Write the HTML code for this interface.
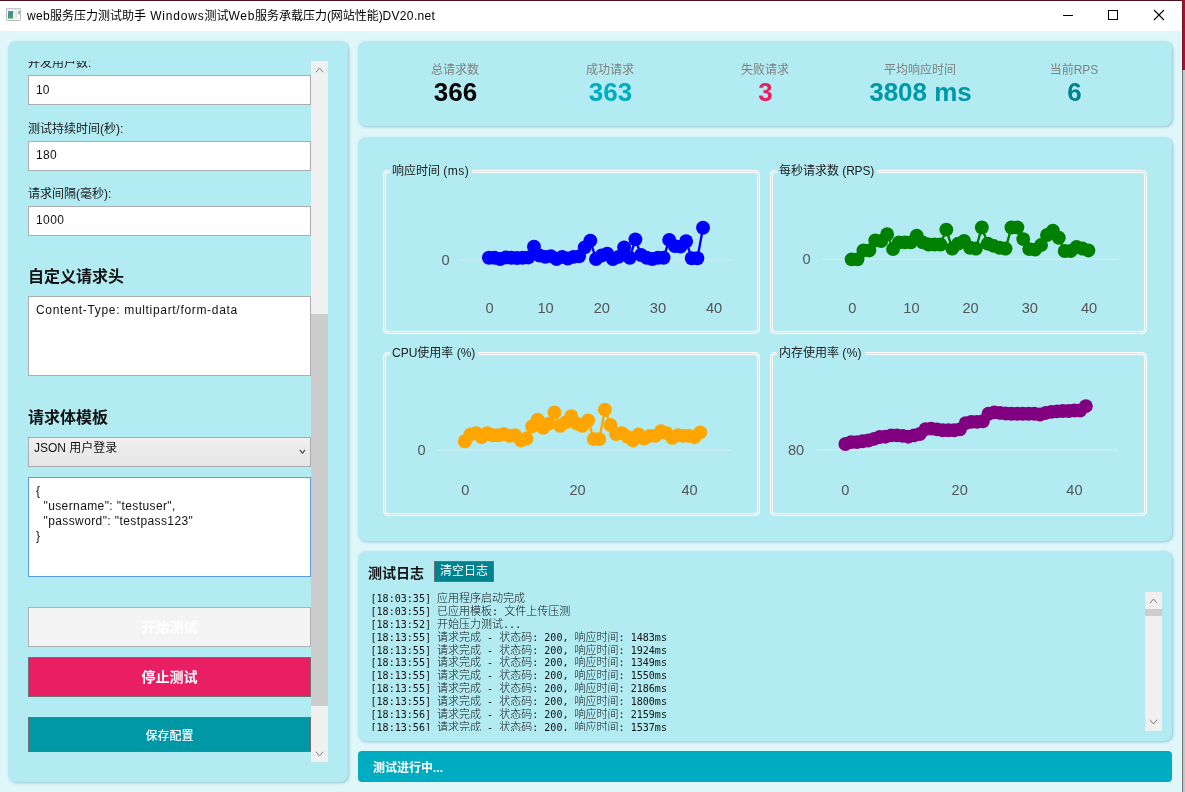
<!DOCTYPE html>
<html lang="zh-CN">
<head>
<meta charset="utf-8">
<title>web服务压力测试助手</title>
<style>
*{box-sizing:border-box;margin:0;padding:0}
html,body{width:1185px;height:792px;overflow:hidden;background:#e0f7fa}
body{position:relative;font-family:"Liberation Sans","Noto Sans CJK SC",sans-serif;font-size:12px;color:#000}
.abs{position:absolute}
#topline{left:0;top:0;width:1185px;height:1px;background:#4b0f1d}
#titlebar{left:0;top:1px;width:1182px;height:30px;background:#fff}
#rb1{left:1182px;top:0;width:3px;height:70px;background:#a2142f;border-left:1px solid #7d1226}
#rb2{left:1182px;top:70px;width:3px;height:722px;background:#c6c6c6;border-left:1px solid #6e6e6e}
#appicon{left:6px;top:8px;width:15px;height:13px;border:1px solid #a9b1bd;background:#f2f3f5}
#appicon i{position:absolute;left:1px;top:2px;width:6px;height:8px;background:linear-gradient(#5b86b8,#4d9a5a)}
#appicon b{position:absolute;left:8px;top:1px;width:2px;height:10px;background:#d9d9d9}
#appicon u{position:absolute;left:11px;top:2px;width:2px;height:4px;background:#7fa6d8}
#title{left:27px;top:9px;font-size:12px;line-height:15px;white-space:nowrap;color:#000}
.wb{top:1px;height:30px;width:46px}
.panel{background:#b2ebf2;border-radius:8px;box-shadow:1px 1px 3px rgba(95,160,190,.6)}
.lbl{left:28px;font-size:12px;line-height:14px;white-space:nowrap;color:#1a1a1a}
.inp{left:28px;width:283px;background:#fff;border:1px solid #abadb3;font-size:12px;padding-left:7px;color:#111}
.h{left:28px;font-size:16px;font-weight:bold;line-height:20px;white-space:nowrap;color:#111}
.btn{left:28px;width:283px;text-align:center;font-weight:bold;font-size:12px;color:#fff;border:1px solid #707070}
.st-l{font-size:12px;line-height:14px;color:#808080;text-align:center;width:154px;top:63px;white-space:nowrap}
.st-v{font-size:26px;line-height:28px;font-weight:bold;text-align:center;width:154px;top:78px;white-space:nowrap;padding-left:1px}
.gb{border:3px solid #fff;border-radius:5px}
.gb:before{content:"";position:absolute;left:-2px;top:-2px;right:-2px;bottom:-2px;border:1px solid #d5dfe5;border-radius:4px}
.gbt{background:#b2ebf2;font-size:12px;line-height:17px;white-space:nowrap;color:#1c1c1c;padding:0 2.8px 0 2px}
svg.charts{position:absolute;left:0;top:0}
.ax{font-family:"Liberation Sans",sans-serif;font-size:14.6px;fill:#555}
.ll{white-space:pre;height:12.88px;line-height:12.88px}
.cj{font-family:"Noto Sans CJK SC",sans-serif;font-size:11px;font-weight:300}
#log{left:370.5px;top:591px;width:774px;height:139.5px;overflow:hidden;font-family:"DejaVu Sans Mono","Liberation Mono","Noto Sans CJK SC",monospace;font-size:10.05px;color:#111}
.sb{background:#f0f0f0}
.thumb{background:#cdcdcd}
</style>
</head>
<body>
<div class="abs" id="topline"></div>
<div class="abs" id="titlebar"></div>
<div class="abs" id="rb1"></div>
<div class="abs" id="rb2"></div>
<div class="abs" style="left:1181px;top:31px;width:1px;height:761px;background:#e9fdff"></div>
<svg class="abs" style="left:5px;top:7px" width="18" height="16" viewBox="0 0 18 16">
<defs><linearGradient id="ig1" x1="0" y1="0" x2="0.6" y2="1"><stop offset="0" stop-color="#6f8fc6"/><stop offset=".45" stop-color="#3f8f8f"/><stop offset="1" stop-color="#46a758"/></linearGradient>
<linearGradient id="ig2" x1="0" y1="0" x2="0" y2="1"><stop offset="0" stop-color="#7d9fd3"/><stop offset=".6" stop-color="#9ad9a0"/><stop offset="1" stop-color="#ffffff"/></linearGradient></defs>
<rect x="1.5" y="1.5" width="14" height="12" rx=".6" fill="#fff" stroke="#b4bac2" stroke-width="1"/>
<rect x="1.5" y="1.3" width="14" height="1.3" fill="#ccd0d6"/>
<rect x="3" y="4" width="5.2" height="7.6" fill="url(#ig1)"/>
<rect x="10" y="4" width="2.2" height="7.6" fill="#e3e3e3"/>
<rect x="13" y="4" width="2" height="4.6" fill="url(#ig2)"/>
</svg>
<div class="abs" id="title"><span style="letter-spacing:.33px">web</span>服务压力测试助手<span style="letter-spacing:.8px"> Windows</span>测试<span style="letter-spacing:.7px">Web</span>服务承载压力<span style="letter-spacing:-.3px">(</span>网站性能<span style="letter-spacing:-.3px">)</span><span style="letter-spacing:.35px">DV20.net</span></div>
<svg class="abs wb" style="left:1044px" viewBox="0 0 46 30"><path d="M19 14.5h10" stroke="#000" stroke-width="1" fill="none"/></svg>
<svg class="abs wb" style="left:1090px" viewBox="0 0 46 30"><rect x="18.5" y="9.5" width="9" height="9" stroke="#000" stroke-width="1" fill="none"/></svg>
<svg class="abs wb" style="left:1136px" viewBox="0 0 46 30"><path d="M18 9l10 10M28 9l-10 10" stroke="#000" stroke-width="1.1" fill="none"/></svg>

<!-- left panel -->
<div class="abs panel" style="left:8px;top:41px;width:340px;height:741px"></div>
<div class="abs" style="left:28px;top:60.6px;width:283px;height:8.4px;overflow:hidden"><div class="lbl" style="position:absolute;left:0;top:-4.6px">并发用户数:</div></div>
<div class="abs inp" style="top:75px;height:30px;line-height:29px">10</div>
<div class="abs lbl" style="top:122px">测试持续时间(秒):</div>
<div class="abs inp" style="top:141px;height:30px;line-height:27px;letter-spacing:.35px">180</div>
<div class="abs lbl" style="top:187px">请求间隔(毫秒):</div>
<div class="abs inp" style="top:206px;height:30px;line-height:26px;letter-spacing:.4px">1000</div>
<div class="abs h" style="top:267px">自定义请求头</div>
<div class="abs inp" style="top:296px;height:80px;line-height:16px;padding-top:5px;letter-spacing:.68px">Content-Type: multipart/form-data</div>
<div class="abs h" style="top:408px">请求体模板</div>
<div class="abs" style="left:28px;top:437px;width:283px;height:30px;border:1px solid #acacac;background:linear-gradient(#f0f0f0,#e5e5e5);font-size:12px;line-height:20px;padding-left:5px;color:#111">JSON 用户登录
<svg class="abs" style="left:269.5px;top:10.5px" width="7" height="6" viewBox="0 0 7 6"><path d="M.8 .9L3.4 4.1L6 .9" stroke="#555" stroke-width="1.35" fill="none"/></svg></div>
<div class="abs inp" style="top:477px;height:100px;border-color:#569de5;line-height:15px;padding-top:6px;white-space:pre;letter-spacing:.4px">{
  "username": "testuser",
  "password": "testpass123"
}</div>
<div class="abs btn" style="top:607px;height:40px;line-height:38px;font-size:14px;background:#f4f4f4;border-color:#adb2b5">开始测试</div>
<div class="abs btn" style="top:657px;height:40px;line-height:38px;font-size:14px;background:#e91e63">停止测试</div>
<div class="abs btn" style="top:717px;height:35px;line-height:36px;font-weight:500;background:#0097a7">保存配置</div>
<div class="abs sb" style="left:311px;top:61px;width:17px;height:701px"></div>
<div class="abs thumb" style="left:311px;top:314px;width:17px;height:392px"></div>
<svg class="abs" style="left:315px;top:66px" width="9" height="8" viewBox="0 0 9 8"><path d="M1 6.2L4.5 2L8 6.2" stroke="#7d7d7d" stroke-width="1" fill="none"/></svg>
<svg class="abs" style="left:315px;top:750px" width="9" height="8" viewBox="0 0 9 8"><path d="M1 1.8L4.5 6L8 1.8" stroke="#7d7d7d" stroke-width="1" fill="none"/></svg>

<!-- stats -->
<div class="abs panel" style="left:358px;top:41px;width:814px;height:85px"></div>
<div class="abs st-l" style="left:378px">总请求数</div>
<div class="abs st-v" style="left:378px;color:#000">366</div>
<div class="abs st-l" style="left:533px">成功请求</div>
<div class="abs st-v" style="left:533px;color:#00acc1">363</div>
<div class="abs st-l" style="left:688px">失败请求</div>
<div class="abs st-v" style="left:688px;color:#e91e63">3</div>
<div class="abs st-l" style="left:843px">平均响应时间</div>
<div class="abs st-v" style="left:843px;color:#0097a7">3808 ms</div>
<div class="abs st-l" style="left:997px">当前RPS</div>
<div class="abs st-v" style="left:997px;color:#00838f">6</div>

<!-- charts -->
<div class="abs panel" style="left:358px;top:137px;width:814px;height:404px"></div>
<div class="abs gb" style="left:383px;top:170px;width:377px;height:164px"></div>
<div class="abs gb" style="left:770px;top:170px;width:377px;height:164px"></div>
<div class="abs gb" style="left:383px;top:352px;width:377px;height:164px"></div>
<div class="abs gb" style="left:770px;top:352px;width:377px;height:164px"></div>
<div class="abs gbt" style="left:390px;top:163px">响应时间 <span style="letter-spacing:.5px">(ms)</span></div>
<div class="abs gbt" style="left:777px;top:163px">每秒请求数 <span style="letter-spacing:-.2px">(RPS)</span></div>
<div class="abs gbt" style="left:390px;top:345px">CPU使用率 (%)</div>
<div class="abs gbt" style="left:777px;top:345px">内存使用率 <span style="letter-spacing:.3px">(%)</span></div>
<svg class="charts" width="1185" height="792" viewBox="0 0 1185 792">
<g stroke="#d3ecf0" stroke-width="1.2">
<line x1="461" y1="260" x2="731" y2="260"/>
<line x1="822" y1="259.3" x2="1118" y2="259.3"/>
<line x1="437" y1="450.2" x2="731" y2="450.2"/>
<line x1="817" y1="449.8" x2="1118" y2="449.8"/>
</g>
<polyline points="488.9,257.72 494.53,257.72 500.17,259.07 505.8,257.45 511.44,257.72 517.07,257.99 522.71,257.72 528.35,257.45 533.98,246.65 539.62,255.56 545.25,256.91 550.88,256.1 556.52,259.07 562.15,256.91 567.79,258.53 573.42,256.91 579.06,256.37 584.69,247.46 590.33,240.71 595.96,259.07 601.6,255.56 607.24,253.67 612.87,259.07 618.5,256.91 624.14,247.46 629.77,257.72 635.41,239.36 641.04,255.02 646.68,257.72 652.31,259.07 657.95,257.72 663.59,257.72 669.22,239.9 674.86,246.11 680.49,246.65 686.12,241.25 691.76,258.26 697.39,258.26 703.03,227.75" fill="none" stroke="#0000ff" stroke-width="2.4" stroke-linejoin="round"/><g fill="#0000ff"><circle cx="488.9" cy="257.72" r="6.95"/><circle cx="494.53" cy="257.72" r="6.95"/><circle cx="500.17" cy="259.07" r="6.95"/><circle cx="505.8" cy="257.45" r="6.95"/><circle cx="511.44" cy="257.72" r="6.95"/><circle cx="517.07" cy="257.99" r="6.95"/><circle cx="522.71" cy="257.72" r="6.95"/><circle cx="528.35" cy="257.45" r="6.95"/><circle cx="533.98" cy="246.65" r="6.95"/><circle cx="539.62" cy="255.56" r="6.95"/><circle cx="545.25" cy="256.91" r="6.95"/><circle cx="550.88" cy="256.1" r="6.95"/><circle cx="556.52" cy="259.07" r="6.95"/><circle cx="562.15" cy="256.91" r="6.95"/><circle cx="567.79" cy="258.53" r="6.95"/><circle cx="573.42" cy="256.91" r="6.95"/><circle cx="579.06" cy="256.37" r="6.95"/><circle cx="584.69" cy="247.46" r="6.95"/><circle cx="590.33" cy="240.71" r="6.95"/><circle cx="595.96" cy="259.07" r="6.95"/><circle cx="601.6" cy="255.56" r="6.95"/><circle cx="607.24" cy="253.67" r="6.95"/><circle cx="612.87" cy="259.07" r="6.95"/><circle cx="618.5" cy="256.91" r="6.95"/><circle cx="624.14" cy="247.46" r="6.95"/><circle cx="629.77" cy="257.72" r="6.95"/><circle cx="635.41" cy="239.36" r="6.95"/><circle cx="641.04" cy="255.02" r="6.95"/><circle cx="646.68" cy="257.72" r="6.95"/><circle cx="652.31" cy="259.07" r="6.95"/><circle cx="657.95" cy="257.72" r="6.95"/><circle cx="663.59" cy="257.72" r="6.95"/><circle cx="669.22" cy="239.9" r="6.95"/><circle cx="674.86" cy="246.11" r="6.95"/><circle cx="680.49" cy="246.65" r="6.95"/><circle cx="686.12" cy="241.25" r="6.95"/><circle cx="691.76" cy="258.26" r="6.95"/><circle cx="697.39" cy="258.26" r="6.95"/><circle cx="703.03" cy="227.75" r="6.95"/></g>
<polyline points="851.6,259.37 857.52,259.37 863.44,250.46 869.36,250.46 875.28,240.47 881.2,241.01 887.12,234.26 893.04,249.11 898.96,242.36 904.88,242.36 910.8,242.36 916.72,235.61 922.64,242.36 928.56,244.52 934.48,244.52 940.4,244.52 946.32,229.67 952.24,248.57 958.16,243.71 964.08,241.01 970,247.76 975.92,248.57 981.84,227.51 987.76,243.71 993.68,245.87 999.6,247.76 1005.52,248.57 1011.44,227.51 1017.36,227.51 1023.28,239.12 1029.2,249.11 1035.12,249.65 1041.04,245.06 1046.96,235.07 1052.88,230.75 1058.8,237.77 1064.72,251 1070.64,251 1076.56,246.95 1082.48,248.57 1088.4,250.46" fill="none" stroke="#008000" stroke-width="2.4" stroke-linejoin="round"/><g fill="#008000"><circle cx="851.6" cy="259.37" r="6.95"/><circle cx="857.52" cy="259.37" r="6.95"/><circle cx="863.44" cy="250.46" r="6.95"/><circle cx="869.36" cy="250.46" r="6.95"/><circle cx="875.28" cy="240.47" r="6.95"/><circle cx="881.2" cy="241.01" r="6.95"/><circle cx="887.12" cy="234.26" r="6.95"/><circle cx="893.04" cy="249.11" r="6.95"/><circle cx="898.96" cy="242.36" r="6.95"/><circle cx="904.88" cy="242.36" r="6.95"/><circle cx="910.8" cy="242.36" r="6.95"/><circle cx="916.72" cy="235.61" r="6.95"/><circle cx="922.64" cy="242.36" r="6.95"/><circle cx="928.56" cy="244.52" r="6.95"/><circle cx="934.48" cy="244.52" r="6.95"/><circle cx="940.4" cy="244.52" r="6.95"/><circle cx="946.32" cy="229.67" r="6.95"/><circle cx="952.24" cy="248.57" r="6.95"/><circle cx="958.16" cy="243.71" r="6.95"/><circle cx="964.08" cy="241.01" r="6.95"/><circle cx="970" cy="247.76" r="6.95"/><circle cx="975.92" cy="248.57" r="6.95"/><circle cx="981.84" cy="227.51" r="6.95"/><circle cx="987.76" cy="243.71" r="6.95"/><circle cx="993.68" cy="245.87" r="6.95"/><circle cx="999.6" cy="247.76" r="6.95"/><circle cx="1005.52" cy="248.57" r="6.95"/><circle cx="1011.44" cy="227.51" r="6.95"/><circle cx="1017.36" cy="227.51" r="6.95"/><circle cx="1023.28" cy="239.12" r="6.95"/><circle cx="1029.2" cy="249.11" r="6.95"/><circle cx="1035.12" cy="249.65" r="6.95"/><circle cx="1041.04" cy="245.06" r="6.95"/><circle cx="1046.96" cy="235.07" r="6.95"/><circle cx="1052.88" cy="230.75" r="6.95"/><circle cx="1058.8" cy="237.77" r="6.95"/><circle cx="1064.72" cy="251" r="6.95"/><circle cx="1070.64" cy="251" r="6.95"/><circle cx="1076.56" cy="246.95" r="6.95"/><circle cx="1082.48" cy="248.57" r="6.95"/><circle cx="1088.4" cy="250.46" r="6.95"/></g>
<polyline points="464.8,441.26 470.41,434.51 476.01,433.16 481.62,437.21 487.22,433.16 492.82,435.32 498.43,435.32 504.04,433.97 509.64,435.86 515.25,435.32 520.85,440.45 526.46,438.56 532.06,426.41 537.66,419.66 543.27,427.76 548.88,423.71 554.48,412.37 560.09,425.87 565.69,422.36 571.3,416.15 576.9,423.71 582.5,425.87 588.11,420.47 593.72,439.1 599.32,439.1 604.92,409.67 610.53,425.06 616.13,433.97 621.74,433.16 627.35,436.67 632.95,440.45 638.56,434.51 644.16,438.56 649.76,435.86 655.37,435.86 660.98,431.27 666.58,433.16 672.19,437.75 677.79,435.32 683.39,435.86 689,435.86 694.61,437.21 700.21,432.35" fill="none" stroke="#ffa500" stroke-width="2.4" stroke-linejoin="round"/><g fill="#ffa500"><circle cx="464.8" cy="441.26" r="6.95"/><circle cx="470.41" cy="434.51" r="6.95"/><circle cx="476.01" cy="433.16" r="6.95"/><circle cx="481.62" cy="437.21" r="6.95"/><circle cx="487.22" cy="433.16" r="6.95"/><circle cx="492.82" cy="435.32" r="6.95"/><circle cx="498.43" cy="435.32" r="6.95"/><circle cx="504.04" cy="433.97" r="6.95"/><circle cx="509.64" cy="435.86" r="6.95"/><circle cx="515.25" cy="435.32" r="6.95"/><circle cx="520.85" cy="440.45" r="6.95"/><circle cx="526.46" cy="438.56" r="6.95"/><circle cx="532.06" cy="426.41" r="6.95"/><circle cx="537.66" cy="419.66" r="6.95"/><circle cx="543.27" cy="427.76" r="6.95"/><circle cx="548.88" cy="423.71" r="6.95"/><circle cx="554.48" cy="412.37" r="6.95"/><circle cx="560.09" cy="425.87" r="6.95"/><circle cx="565.69" cy="422.36" r="6.95"/><circle cx="571.3" cy="416.15" r="6.95"/><circle cx="576.9" cy="423.71" r="6.95"/><circle cx="582.5" cy="425.87" r="6.95"/><circle cx="588.11" cy="420.47" r="6.95"/><circle cx="593.72" cy="439.1" r="6.95"/><circle cx="599.32" cy="439.1" r="6.95"/><circle cx="604.92" cy="409.67" r="6.95"/><circle cx="610.53" cy="425.06" r="6.95"/><circle cx="616.13" cy="433.97" r="6.95"/><circle cx="621.74" cy="433.16" r="6.95"/><circle cx="627.35" cy="436.67" r="6.95"/><circle cx="632.95" cy="440.45" r="6.95"/><circle cx="638.56" cy="434.51" r="6.95"/><circle cx="644.16" cy="438.56" r="6.95"/><circle cx="649.76" cy="435.86" r="6.95"/><circle cx="655.37" cy="435.86" r="6.95"/><circle cx="660.98" cy="431.27" r="6.95"/><circle cx="666.58" cy="433.16" r="6.95"/><circle cx="672.19" cy="437.75" r="6.95"/><circle cx="677.79" cy="435.32" r="6.95"/><circle cx="683.39" cy="435.86" r="6.95"/><circle cx="689" cy="435.86" r="6.95"/><circle cx="694.61" cy="437.21" r="6.95"/><circle cx="700.21" cy="432.35" r="6.95"/></g>
<polyline points="845.4,444 851.12,442.11 856.85,442.11 862.57,441.3 868.3,440.49 874.02,438.87 879.75,436.98 885.48,436.71 891.2,435.36 896.92,435.36 902.65,435.9 908.38,436.71 914.1,435.36 919.82,434.01 925.55,429.15 931.27,428.61 937,429.42 942.72,430.23 948.45,430.23 954.17,430.23 959.9,429.42 965.62,423.21 971.35,421.86 977.07,421.86 982.8,421.32 988.52,413.76 994.25,412.41 999.97,412.95 1005.7,413.49 1011.42,413.76 1017.15,413.76 1022.88,413.76 1028.6,413.76 1034.33,413.76 1040.05,414.57 1045.78,412.95 1051.5,411.87 1057.22,411.33 1062.95,411.06 1068.67,411.06 1074.4,410.52 1080.12,410.52 1085.85,406.19" fill="none" stroke="#800080" stroke-width="2.4" stroke-linejoin="round"/><g fill="#800080"><circle cx="845.4" cy="444" r="6.95"/><circle cx="851.12" cy="442.11" r="6.95"/><circle cx="856.85" cy="442.11" r="6.95"/><circle cx="862.57" cy="441.3" r="6.95"/><circle cx="868.3" cy="440.49" r="6.95"/><circle cx="874.02" cy="438.87" r="6.95"/><circle cx="879.75" cy="436.98" r="6.95"/><circle cx="885.48" cy="436.71" r="6.95"/><circle cx="891.2" cy="435.36" r="6.95"/><circle cx="896.92" cy="435.36" r="6.95"/><circle cx="902.65" cy="435.9" r="6.95"/><circle cx="908.38" cy="436.71" r="6.95"/><circle cx="914.1" cy="435.36" r="6.95"/><circle cx="919.82" cy="434.01" r="6.95"/><circle cx="925.55" cy="429.15" r="6.95"/><circle cx="931.27" cy="428.61" r="6.95"/><circle cx="937" cy="429.42" r="6.95"/><circle cx="942.72" cy="430.23" r="6.95"/><circle cx="948.45" cy="430.23" r="6.95"/><circle cx="954.17" cy="430.23" r="6.95"/><circle cx="959.9" cy="429.42" r="6.95"/><circle cx="965.62" cy="423.21" r="6.95"/><circle cx="971.35" cy="421.86" r="6.95"/><circle cx="977.07" cy="421.86" r="6.95"/><circle cx="982.8" cy="421.32" r="6.95"/><circle cx="988.52" cy="413.76" r="6.95"/><circle cx="994.25" cy="412.41" r="6.95"/><circle cx="999.97" cy="412.95" r="6.95"/><circle cx="1005.7" cy="413.49" r="6.95"/><circle cx="1011.42" cy="413.76" r="6.95"/><circle cx="1017.15" cy="413.76" r="6.95"/><circle cx="1022.88" cy="413.76" r="6.95"/><circle cx="1028.6" cy="413.76" r="6.95"/><circle cx="1034.33" cy="413.76" r="6.95"/><circle cx="1040.05" cy="414.57" r="6.95"/><circle cx="1045.78" cy="412.95" r="6.95"/><circle cx="1051.5" cy="411.87" r="6.95"/><circle cx="1057.22" cy="411.33" r="6.95"/><circle cx="1062.95" cy="411.06" r="6.95"/><circle cx="1068.67" cy="411.06" r="6.95"/><circle cx="1074.4" cy="410.52" r="6.95"/><circle cx="1080.12" cy="410.52" r="6.95"/><circle cx="1085.85" cy="406.19" r="6.95"/></g>
<text class="ax" x="489.5" y="313.4" text-anchor="middle">0</text><text class="ax" x="545.6" y="313.4" text-anchor="middle">10</text><text class="ax" x="601.8" y="313.4" text-anchor="middle">20</text><text class="ax" x="657.9" y="313.4" text-anchor="middle">30</text><text class="ax" x="714.1" y="313.4" text-anchor="middle">40</text>
<text class="ax" x="852.2" y="313.4" text-anchor="middle">0</text><text class="ax" x="911.4" y="313.4" text-anchor="middle">10</text><text class="ax" x="970.6" y="313.4" text-anchor="middle">20</text><text class="ax" x="1029.8" y="313.4" text-anchor="middle">30</text><text class="ax" x="1089" y="313.4" text-anchor="middle">40</text>
<text class="ax" x="465.4" y="495.4" text-anchor="middle">0</text><text class="ax" x="577.5" y="495.4" text-anchor="middle">20</text><text class="ax" x="689.6" y="495.4" text-anchor="middle">40</text>
<text class="ax" x="845.2" y="495.4" text-anchor="middle">0</text><text class="ax" x="959.7" y="495.4" text-anchor="middle">20</text><text class="ax" x="1074.4" y="495.4" text-anchor="middle">40</text>
<text class="ax" x="445.6" y="265.4" text-anchor="middle">0</text>
<text class="ax" x="806.6" y="264.4" text-anchor="middle">0</text>
<text class="ax" x="421.6" y="455.4" text-anchor="middle">0</text>
<text class="ax" x="796" y="455.4" text-anchor="middle">80</text>
</svg>

<!-- log -->
<div class="abs panel" style="left:358px;top:551px;width:814px;height:190px"></div>
<div class="abs" style="left:368px;top:563.5px;font-size:14px;font-weight:bold;line-height:18px;color:#111">测试日志</div>
<div class="abs" style="left:434px;top:561px;width:60px;height:21px;background:#00838f;border:1px solid #707070;color:#fff;font-size:12px;line-height:19px;text-align:center">清空日志</div>
<div class="abs" id="log">
<div class="ll">[18:03:35] <span class="cj">应用程序启动完成</span></div>
<div class="ll">[18:03:55] <span class="cj">已应用模板</span>: <span class="cj">文件上传压测</span></div>
<div class="ll">[18:13:52] <span class="cj">开始压力测试</span>...</div>
<div class="ll">[18:13:55] <span class="cj">请求完成</span> - <span class="cj">状态码</span>: 200, <span class="cj">响应时间</span>: 1483ms</div>
<div class="ll">[18:13:55] <span class="cj">请求完成</span> - <span class="cj">状态码</span>: 200, <span class="cj">响应时间</span>: 1924ms</div>
<div class="ll">[18:13:55] <span class="cj">请求完成</span> - <span class="cj">状态码</span>: 200, <span class="cj">响应时间</span>: 1349ms</div>
<div class="ll">[18:13:55] <span class="cj">请求完成</span> - <span class="cj">状态码</span>: 200, <span class="cj">响应时间</span>: 1550ms</div>
<div class="ll">[18:13:55] <span class="cj">请求完成</span> - <span class="cj">状态码</span>: 200, <span class="cj">响应时间</span>: 2186ms</div>
<div class="ll">[18:13:55] <span class="cj">请求完成</span> - <span class="cj">状态码</span>: 200, <span class="cj">响应时间</span>: 1800ms</div>
<div class="ll">[18:13:56] <span class="cj">请求完成</span> - <span class="cj">状态码</span>: 200, <span class="cj">响应时间</span>: 2159ms</div>
<div class="ll">[18:13:56] <span class="cj">请求完成</span> - <span class="cj">状态码</span>: 200, <span class="cj">响应时间</span>: 1537ms</div>
</div>
<div class="abs sb" style="left:1145px;top:591.5px;width:17px;height:139px"></div>
<div class="abs thumb" style="left:1145px;top:609.3px;width:17px;height:6.8px"></div>
<svg class="abs" style="left:1149px;top:596.5px" width="9" height="8" viewBox="0 0 9 8"><path d="M1 6.2L4.5 2L8 6.2" stroke="#7d7d7d" stroke-width="1" fill="none"/></svg>
<svg class="abs" style="left:1149px;top:718.3px" width="9" height="8" viewBox="0 0 9 8"><path d="M1 1.8L4.5 6L8 1.8" stroke="#7d7d7d" stroke-width="1" fill="none"/></svg>

<!-- status -->
<div class="abs" style="left:358px;top:751px;width:814px;height:31px;background:#00acc1;border-radius:4px;color:#fff;font-weight:bold;font-size:12px;line-height:34px;padding-left:15px">测试进行中...</div>
</body>
</html>
